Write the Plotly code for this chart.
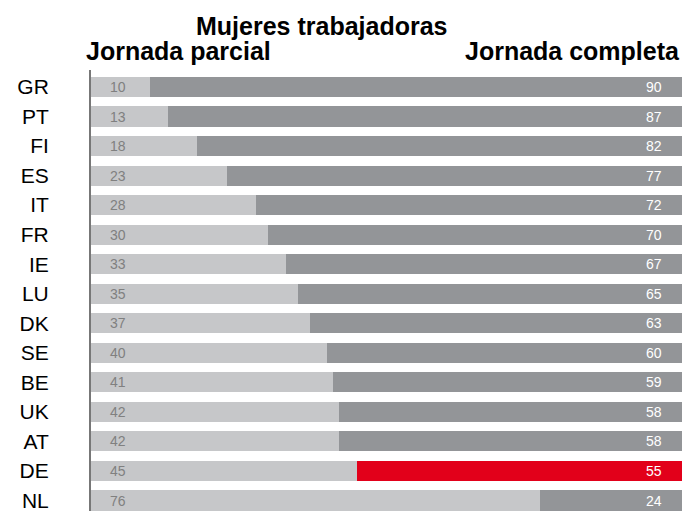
import plotly.graph_objects as go

countries = ["GR", "PT", "FI", "ES", "IT", "FR", "IE", "LU", "DK", "SE", "BE", "UK", "AT", "DE", "NL"]
part_time = [10, 13, 18, 23, 28, 30, 33, 35, 37, 40, 41, 42, 42, 45, 76]
full_time = [90, 87, 82, 77, 72, 70, 67, 65, 63, 60, 59, 58, 58, 55, 24]
highlight = "DE"

light = "#c6c7c9"
dark = "#939598"
red = "#e2001a"
full_colors = [red if c == highlight else dark for c in countries]

fig = go.Figure()
fig.add_trace(go.Bar(y=countries, x=part_time, orientation="h", marker=dict(color=light, line=dict(width=0)),
                     hoverinfo="skip", showlegend=False))
fig.add_trace(go.Bar(y=countries, x=full_time, orientation="h", marker=dict(color=full_colors, line=dict(width=0)),
                     hoverinfo="skip", showlegend=False))

font = "Liberation Sans, Arial"
annotations = []
for c, p, f in zip(countries, part_time, full_time):
    annotations.append(dict(x=0, y=c, xref="x", yref="y", text=str(p), showarrow=False,
                            xanchor="left", xshift=17, font=dict(family=font, size=14, color="#808080")))
    annotations.append(dict(x=p + f, y=c, xref="x", yref="y", text=str(f), showarrow=False,
                            xanchor="right", xshift=-18, font=dict(family=font, size=14, color="#ffffff")))

annotations.append(dict(x=0.391, y=1.099, xref="paper", yref="paper", text="<b>Mujeres trabajadoras</b>",
                        showarrow=False, xanchor="center", yanchor="middle",
                        font=dict(family=font, size=25, color="#000")))
annotations.append(dict(x=-0.012, y=1.043, xref="paper", yref="paper", text="<b>Jornada parcial</b>",
                        showarrow=False, xanchor="left", yanchor="middle",
                        font=dict(family=font, size=25, color="#000")))
annotations.append(dict(x=1.0, y=1.043, xref="paper", yref="paper", text="<b>Jornada completa</b>",
                        showarrow=False, xanchor="right", yanchor="middle",
                        font=dict(family=font, size=25, color="#000")))

fig.update_layout(
    width=691, height=511,
    margin=dict(l=91, r=9, t=70, b=0),
    paper_bgcolor="white", plot_bgcolor="white",
    barmode="stack", bargap=0.32,
    annotations=annotations,
    xaxis=dict(range=[0, 100], showgrid=False, zeroline=False, showticklabels=False, showline=False,
               fixedrange=True, automargin=False),
    yaxis=dict(type="category", categoryorder="array", categoryarray=countries,
               range=[14.355, -0.575], showgrid=False, zeroline=False, automargin=False,
               showline=True, linecolor="#777777", linewidth=2,
               ticks="", ticklabelstandoff=36, fixedrange=True,
               tickfont=dict(family=font, size=21, color="#000")),
)

fig.write_html("out.html", config={"displayModeBar": False},
               post_script="document.body.style.margin='0';document.body.style.overflow='hidden';")
